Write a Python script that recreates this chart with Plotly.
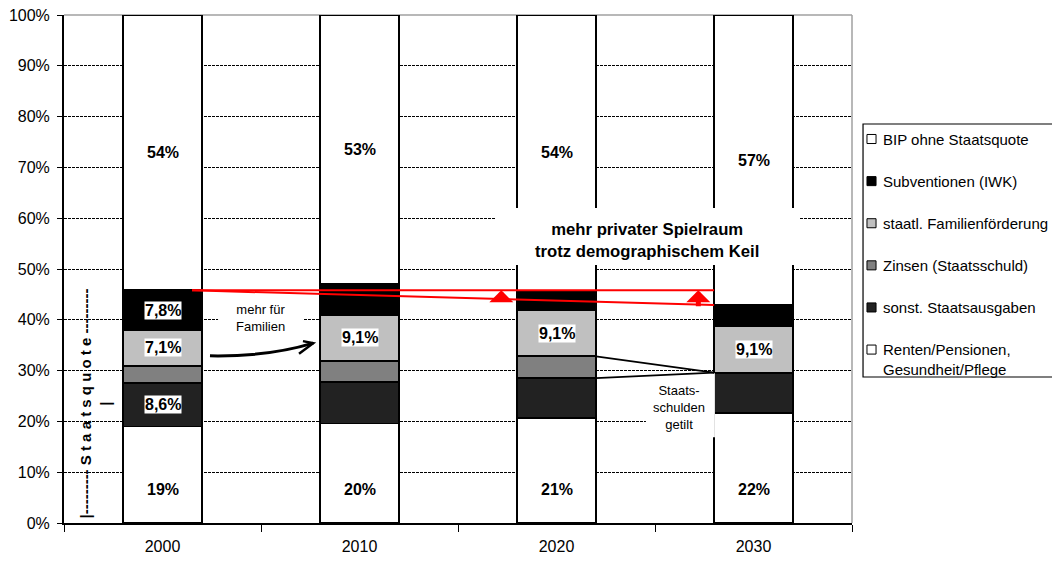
import numpy as np
import plotly.graph_objects as go

years = ["2000", "2010", "2020", "2030"]

# shares of GDP in percent, stacked from bottom to top
renten = [19.0, 19.6, 20.7, 21.7]
sonstige = [8.6, 8.1, 7.8, 7.9]
zinsen = [3.3, 4.2, 4.3, 0.0]
familie = [7.1, 9.1, 9.1, 9.1]
subventionen = [7.8, 6.0, 3.8, 4.2]
bip_ohne_staat = [54.2, 53.0, 54.3, 57.1]

y_ticks = [0, 10, 20, 30, 40, 50, 60, 70, 80, 90, 100]
y_tick_labels = ["0%", "10%", "20%", "30%", "40%", "50%", "60%", "70%", "80%", "90%", "100%"]

series_names = [
    "Renten/Pensionen,<br>Gesundheit/Pflege",
    "sonst. Staatsausgaben",
    "Zinsen (Staatsschuld)",
    "staatl. Familienförderung",
    "Subventionen (IWK)",
    "BIP ohne Staatsquote",
]
series_values = [renten, sonstige, zinsen, familie, subventionen, bip_ohne_staat]
series_colors = ["#FFFFFF", "#222222", "#808080", "#C0C0C0", "#000000", "#FFFFFF"]
# which bars of each series carry a value label
series_labeled = [
    [True, True, True, True],
    [True, False, False, False],
    [False, False, False, False],
    [True, True, True, True],
    [True, False, False, False],
    [True, True, True, True],
]
series_decimals = [0, 1, 1, 1, 1, 0]

FONT = "Liberation Sans, Arial, sans-serif"
BARGAP = 0.6
HALF = (1 - BARGAP) / 2
N = len(years)


def xp(i):
    """category index -> paper x"""
    return (i + 0.5) / N


def yp(v):
    """percent -> paper y"""
    return v / 100.0


fig = go.Figure()
for name, vals, col in zip(series_names, series_values, series_colors):
    fig.add_trace(go.Bar(
        x=years, y=vals, name=name,
        marker=dict(color=col, line=dict(color="black", width=1.8)),
    ))

vals_arr = np.array(series_values)
tops = np.cumsum(vals_arr, axis=0)
bottoms = tops - vals_arr

# value labels
RENTEN_LABEL_Y = 6.5
for k, vals in enumerate(series_values):
    for j, v in enumerate(vals):
        if not series_labeled[k][j]:
            continue
        txt = f"{v:.{series_decimals[k]}f}".replace(".", ",") + "%"
        y = RENTEN_LABEL_Y if k == 0 else (bottoms[k][j] + tops[k][j]) / 2
        fig.add_annotation(
            x=xp(j), y=float(y), xref="paper", yref="y", xanchor="center", yanchor="middle",
            text=f"<b>{txt}</b>", showarrow=False, bgcolor="white", borderpad=0,
            font=dict(family=FONT, size=16, color="black"),
        )

shapes = []

# plot frame (top and right)
shapes.append(dict(type="line", xref="paper", yref="paper", x0=0, x1=1, y0=1, y1=1,
                   line=dict(color="#A0A0A0", width=1.5), layer="below"))
shapes.append(dict(type="line", xref="paper", yref="paper", x0=1, x1=1, y0=0, y1=1,
                   line=dict(color="#A0A0A0", width=1.5), layer="below"))

# white text boxes
for bx0, bx1, by0, by1 in [(1.688, 3.236, 50.8, 62.0),
                           (0.282, 0.713, 36.8, 44.5),
                           (2.454, 2.804, 16.9, 29.5)]:
    shapes.append(dict(type="rect", xref="paper", yref="y",
                       x0=xp(bx0), x1=xp(bx1), y0=by0, y1=by1,
                       fillcolor="white", line=dict(width=0), layer="above"))

# red reference lines: level of 2000 vs. trend to 2030
top_2000 = float(tops[4][0])
top_2030 = float(tops[4][3])
x_from, x_to = 0.15, 3 - HALF
shapes.append(dict(type="line", xref="paper", yref="y", x0=xp(x_from), x1=xp(x_to),
                   y0=top_2000, y1=top_2000, line=dict(color="red", width=2)))
shapes.append(dict(type="line", xref="paper", yref="y", x0=xp(x_from), x1=xp(x_to),
                   y0=top_2000, y1=top_2030, line=dict(color="red", width=2)))

# interest block 2020 converging to zero in 2030
for yv in (tops[2][2], bottoms[2][2]):
    shapes.append(dict(type="line", xref="paper", yref="y", x0=xp(2 + HALF), x1=xp(3 - HALF),
                       y0=float(yv), y1=float(tops[1][3]), line=dict(color="black", width=1.8)))

# curved arrow "mehr für Familien"
p0, c1, p2 = (0.241, 32.9), (0.536, 32.7), (0.765, 35.4)
wing_a, wing_b = (0.713, 35.8), (0.693, 33.3)
shapes.append(dict(type="path", xref="paper", yref="paper",
                   path=f"M {xp(p0[0])},{yp(p0[1])} Q {xp(c1[0])},{yp(c1[1])} {xp(p2[0])},{yp(p2[1])}",
                   line=dict(color="black", width=3)))
shapes.append(dict(type="path", xref="paper", yref="paper",
                   path=(f"M {xp(wing_a[0])},{yp(wing_a[1])} L {xp(p2[0])},{yp(p2[1])} "
                         f"L {xp(wing_b[0])},{yp(wing_b[1])}"),
                   line=dict(color="black", width=2.5)))

# red up-arrows between the two lines
for xi in (1.72, 2.72):
    tail = top_2000 + (top_2030 - top_2000) * (xi - x_from) / (x_to - x_from)
    fig.add_annotation(x=xp(xi), y=top_2000, xref="paper", yref="y",
                       ax=0, ay=tail - 0.6, axref="pixel", ayref="y", text="",
                       showarrow=True, arrowhead=1, arrowsize=0.8, arrowwidth=5,
                       arrowcolor="red")

# annotations
fig.add_annotation(x=xp(2.459), y=55.7, xref="paper", yref="y", showarrow=False,
                   xanchor="center", yanchor="middle",
                   text="<b>mehr privater Spielraum<br>trotz demographischem Keil</b>",
                   font=dict(family=FONT, size=16.7, color="black"))
fig.add_annotation(x=xp(0.497), y=40.45, xref="paper", yref="y", showarrow=False,
                   xanchor="center", yanchor="middle",
                   text="mehr für<br>Familien", font=dict(family=FONT, size=13, color="black"))
fig.add_annotation(x=xp(2.622), y=22.7, xref="paper", yref="y", showarrow=False,
                   xanchor="center", yanchor="middle",
                   text="Staats-<br>schulden<br>getilt", font=dict(family=FONT, size=13, color="black"))
fig.add_annotation(x=xp(-0.338), y=23.5, xref="paper", yref="y", showarrow=False,
                   xanchor="center", yanchor="middle", textangle=-90,
                   text="<b>|--------- S t a a t s q u o t e ---------<br>|</b>",
                   font=dict(family=FONT, size=15, color="black"))

# legend box
LEG_X0, LEG_X1 = 1.014, 1.27
LEG_Y0, LEG_Y1 = 0.2874, 0.7854
shapes.append(dict(type="rect", xref="paper", yref="paper", x0=LEG_X0, x1=LEG_X1,
                   y0=LEG_Y0, y1=LEG_Y1, line=dict(color="black", width=1.2),
                   fillcolor="rgba(0,0,0,0)"))
LEG_FIRST, LEG_STEP = 0.7559, 0.0829
SW_X0, SW_X1, SW_H = 1.019, 1.0305, 0.0089
for i, k in enumerate(range(len(series_names) - 1, -1, -1)):
    yc = LEG_FIRST - i * LEG_STEP
    shapes.append(dict(type="rect", xref="paper", yref="paper", x0=SW_X0, x1=SW_X1,
                       y0=yc - SW_H, y1=yc + SW_H, fillcolor=series_colors[k],
                       line=dict(color="black", width=1)))
    multi = "<br>" in series_names[k]
    fig.add_annotation(x=1.0368, y=yc + (0.021 if multi else 0), xref="paper", yref="paper",
                       xanchor="left", yanchor="top" if multi else "middle", align="left",
                       showarrow=False, text=series_names[k],
                       font=dict(family=FONT, size=15, color="black"))

fig.update_layout(
    width=1052, height=563,
    margin=dict(l=64, r=200, t=15, b=40),
    plot_bgcolor="white", paper_bgcolor="white",
    barmode="stack", bargap=BARGAP, showlegend=False,
    font=dict(family=FONT, size=16, color="black"),
    shapes=shapes,
    xaxis=dict(type="category", showline=True, linecolor="black", linewidth=2,
               ticks="outside", ticklen=7, tickcolor="black", tickson="boundaries",
               showgrid=False, ticklabelstandoff=8, automargin=False,
               tickfont=dict(family=FONT, size=16, color="black")),
    yaxis=dict(range=[0, 100], tickmode="array", tickvals=y_ticks, ticktext=y_tick_labels,
               showgrid=True, gridcolor="black", gridwidth=1, griddash="3px,1px",
               showline=True, linecolor="black", linewidth=2, zeroline=False,
               ticks="outside", ticklen=5, tickcolor="black", ticklabelstandoff=4,
               automargin=False,
               tickfont=dict(family=FONT, size=16, color="black")),
)

fig.write_html("out.html")
